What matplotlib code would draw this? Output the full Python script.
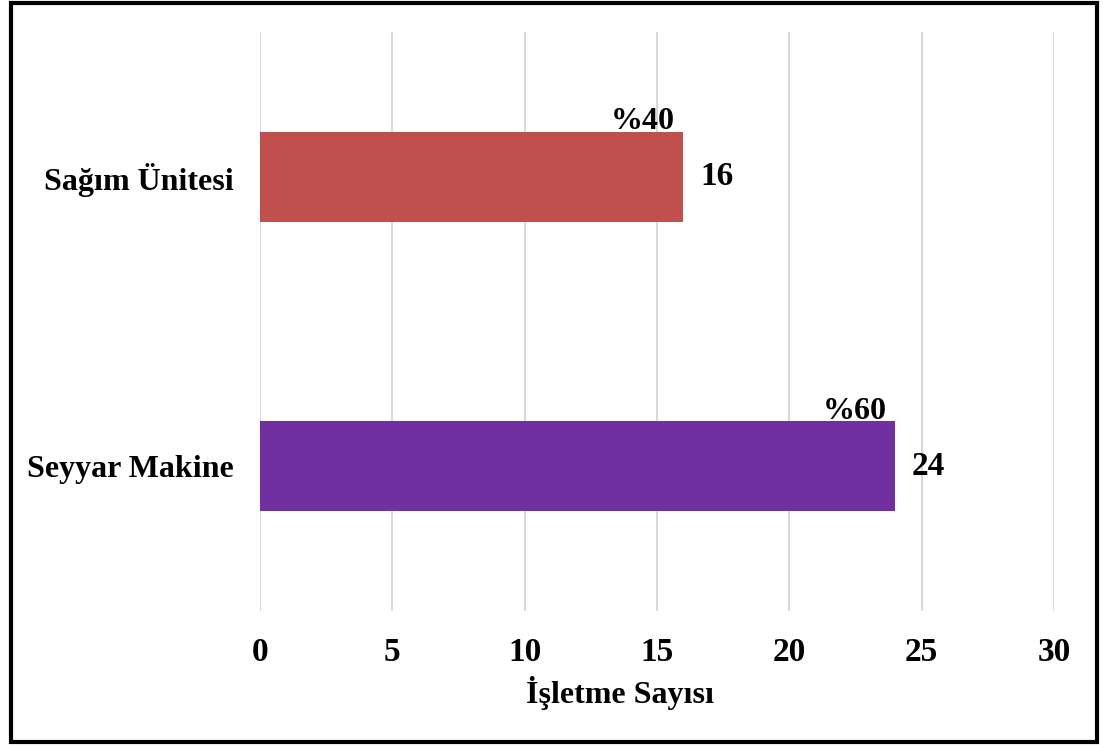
import matplotlib.pyplot as plt
from matplotlib.patches import Rectangle

# Données
categories = ["Seyyar Makine", "Sağım Ünitesi"]
counts = [24, 16]
percents = ["%60", "%40"]
bar_colors = ["#7030A0", "#C0504D"]
x_ticks = [0, 5, 10, 15, 20, 25, 30]

plt.rcParams['font.family'] = ['Liberation Serif', 'DejaVu Serif']
plt.rcParams['font.weight'] = 'bold'

fig = plt.figure(figsize=(11.03, 7.45), dpi=100)
ax = fig.add_axes([260 / 1103, 1 - 611 / 745, (1054 - 260) / 1103, (611 - 32) / 745])

y_pos = list(range(len(categories)))
bars = ax.barh(y_pos, counts, height=0.31, color=bar_colors, zorder=3)

ax.set_xlim(0, 30)
ax.set_ylim(-0.5, 1.5)
ax.set_xticks(x_ticks)
ax.set_xticklabels([str(t) for t in x_ticks], fontsize=24, fontweight='bold')
ax.set_yticks(y_pos)
ax.set_yticklabels(categories, fontsize=23, fontweight='bold')
ax.tick_params(axis='both', length=0)
ax.tick_params(axis='x', pad=19)
ax.tick_params(axis='y', pad=19)

ax.grid(axis='x', color='#D9D9D9', linewidth=1.5, zorder=0)
for s in ax.spines.values():
    s.set_visible(False)

# Étiquettes des barres
for bar, c, p in zip(bars, counts, percents):
    yc = bar.get_y() + bar.get_height() / 2
    top = bar.get_y() + bar.get_height()
    ax.annotate(str(c), (c, yc), xytext=(12, 0), textcoords='offset points',
                ha='left', va='center', fontsize=24, fontweight='bold')
    ax.annotate(p, (c, top), xytext=(-6, -3), textcoords='offset points',
                ha='right', va='bottom', fontsize=23, fontweight='bold')

fig.text(620 / 1103, 1 - 693 / 745, "İşletme Sayısı", ha='center', va='center',
         fontsize=23, fontweight='bold')

# Cadre noir autour du graphique
fig.patches.append(Rectangle((11 / 1103, 3 / 745), (1097 - 11) / 1103, (742 - 3) / 745,
                             transform=fig.transFigure, fill=False,
                             edgecolor='black', linewidth=3))

fig.savefig("out.png", dpi=100)
